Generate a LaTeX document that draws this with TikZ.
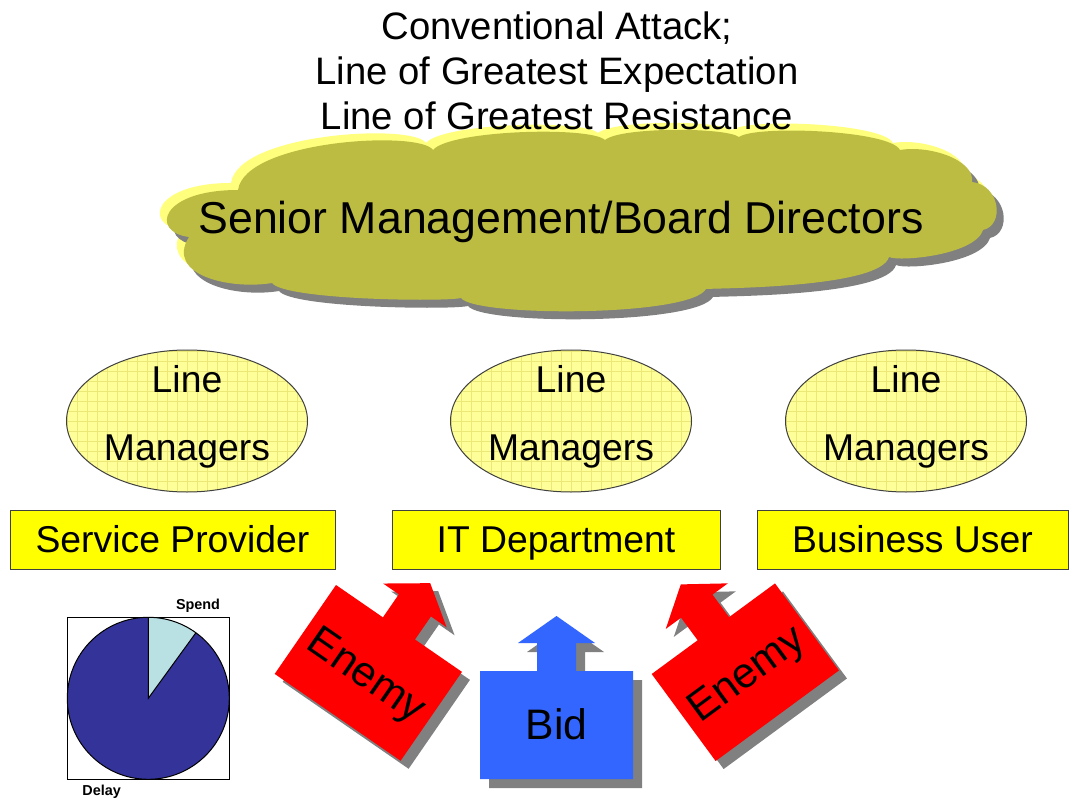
\documentclass[tikz,border=0pt]{standalone}
\usepackage{fontspec}
\setmainfont{Liberation Sans}
\usetikzlibrary{shapes.geometric}

\definecolor{cloudbody}{RGB}{188,188,66}
\definecolor{cloudlite}{RGB}{255,255,125}
\definecolor{shadowgray}{RGB}{128,128,128}
\definecolor{paleyel}{RGB}{255,255,153}
\definecolor{gridyel}{RGB}{236,232,120}
\definecolor{boxyel}{RGB}{255,255,0}
\definecolor{enemyred}{RGB}{255,0,0}
\definecolor{bidblue}{RGB}{51,102,255}
\definecolor{delayblue}{RGB}{51,51,153}
\definecolor{spendcyan}{RGB}{185,225,228}
\definecolor{edge}{RGB}{64,64,64}

% outline of the cloud, in pixel units
\newcommand\cloudoutline{%
  (189,237) .. controls (150,232) and (160,190) .. (238,190)
  .. controls (245,140) and (420,130) .. (433,150)
  .. controls (450,130) and (590,126) .. (605,140)
  .. controls (620,127) and (725,127) .. (739,137)
  .. controls (755,125) and (890,130) .. (900,150)
  .. controls (930,145) and (975,160) .. (972,182)
  .. controls (1000,185) and (1005,225) .. (983,230)
  .. controls (975,255) and (900,262) .. (889,257)
  .. controls (880,288) and (720,288) .. (706,289)
  .. controls (690,317) and (475,317) .. (461,298)
  .. controls (445,302) and (285,300) .. (272,283)
  .. controls (230,290) and (165,275) .. (189,237) -- cycle}

% box with an up arrow on its top edge (local frame, y pointing down)
\newcommand\arrowboxpath{%
  (0,0) -- (57,0) -- (57,-28) -- (38,-28) -- (76.5,-55) -- (115,-28)
  -- (96,-28) -- (96,0) -- (153,0) -- (153,108) -- (0,108) -- cycle}

\tikzset{
  title/.style={anchor=base, inner sep=0pt, font=\fontsize{28.7}{34}\selectfont},
  cloudtxt/.style={anchor=base, inner sep=0pt, font=\fontsize{33.5}{40}\selectfont},
  mgrtxt/.style={anchor=base, inner sep=0pt, font=\fontsize{28}{34}\selectfont},
  mgrell/.style={ellipse, draw=edge, line width=0.75pt, fill=paleyel,
    minimum width=180.75pt, minimum height=106.5pt, inner sep=0pt,
    path picture={\draw[gridyel, line width=0.45pt]
      (path picture bounding box.south west) grid[step=7.5pt]
      (path picture bounding box.north east);}},
  unitbox/.style={rectangle, draw=edge, line width=0.75pt, fill=boxyel,
    minimum height=44.25pt, inner sep=0pt, text height=20.2pt, text depth=0pt,
    font=\fontsize{28}{34}\selectfont},
  shapetxt/.style={inner sep=0pt, text height=23pt, text depth=0pt,
    font=\fontsize{32}{38}\selectfont},
  pielbl/.style={anchor=base, inner sep=0pt, font=\fontsize{10.8}{13}\selectfont\bfseries}
}

\begin{document}
\begin{tikzpicture}[x=0.75pt, y=-0.75pt]
\useasboundingbox (0,0) rectangle (1077,798);
\fill[white] (0,0) rectangle (1077,798);

% cloud: light rim, drop shadow, body
\fill[cloudlite, shift={(-7,-7)}] \cloudoutline;
\fill[shadowgray, shift={(7,8)}] \cloudoutline;
\fill[cloudbody] \cloudoutline;
\node[cloudtxt] (board) at (561,233.3) {Senior Management/Board Directors};

% heading
\node[title] (head1) at (557,40) {Conventional Attack;};
\node[title] (head2) at (557,85) {Line of Greatest Expectation};
\node[title] (head3) at (557,130) {Line of Greatest Resistance};

% line managers
\foreach \cx/\nm in {187/lmA, 571/lmB, 906/lmC}{
  \node[mgrell] (\nm) at (\cx,421) {};
  \node[mgrtxt] (\nm-top) at (\cx,392) {Line};
  \node[mgrtxt] (\nm-bot) at (\cx,460) {Managers};
}

% units
\node[unitbox, minimum width=243.75pt] (provider) at (172.5,539.5) {Service Provider};
\node[unitbox, minimum width=246pt] (itdept) at (556,539.5) {IT Department};
\node[unitbox, minimum width=233.25pt] (bususer) at (912.5,539.5) {Business User};

% pie chart
\draw[black, line width=0.75pt] (67.3,617.3) rectangle (229.3,779.3);
\fill[delayblue] (148.3,698.3) circle[radius=81];
\fill[spendcyan] (148.3,698.3) -- plot[domain=54:90, samples=24]
  ({148.3+81*cos(\x)},{698.3-81*sin(\x)}) -- cycle;
\draw[black, line width=0.75pt] (148.3,698.3) circle[radius=81];
\draw[black, line width=0.75pt] (148.3,617.3) -- (148.3,698.3)
  -- ({148.3+81*cos(54)},{698.3-81*sin(54)});
\node[pielbl] (spend) at (198,609) {Spend};
\node[pielbl] (delay) at (101.7,795) {Delay};

% bid
\begin{scope}[shift={(489,680)}]
  \fill[shadowgray] \arrowboxpath;
\end{scope}
\begin{scope}[shift={(480,671)}]
  \fill[bidblue] \arrowboxpath;
\end{scope}
\node[shapetxt] (bid) at (556.5,724) {Bid};

% enemies
\begin{scope}[shift={(344,593)}, rotate=-34.6]
  \fill[shadowgray] \arrowboxpath;
\end{scope}
\begin{scope}[shift={(336,585)}, rotate=-34.6]
  \fill[enemyred] \arrowboxpath;
\end{scope}
\node[shapetxt, rotate=-34.6] (enemyL) at (368,673) {Enemy};

\begin{scope}[shift={(659.7,682)}, rotate=36.3]
  \fill[shadowgray] \arrowboxpath;
\end{scope}
\begin{scope}[shift={(651.7,674)}, rotate=36.3]
  \fill[enemyred] \arrowboxpath;
\end{scope}
\node[shapetxt, rotate=36.3] (enemyR) at (745,672) {Enemy};

\end{tikzpicture}
\end{document}
